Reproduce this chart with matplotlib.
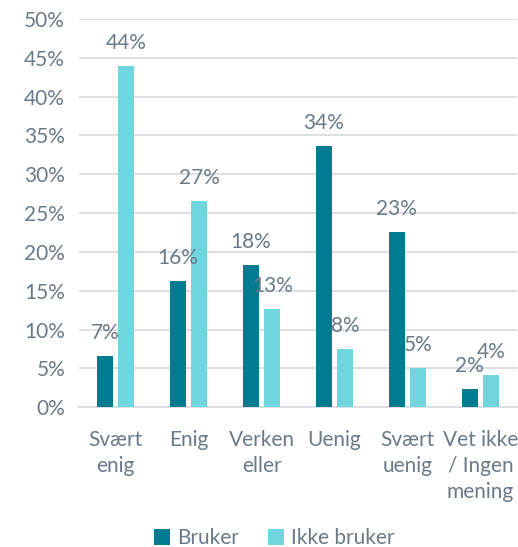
import matplotlib
matplotlib.use("Agg")
import matplotlib.pyplot as plt
from matplotlib.patches import Patch
import numpy as np

# --- Data -------------------------------------------------------------------
categories = ["Svært\nenig", "Enig", "Verken\neller", "Uenig", "Svært\nuenig", "Vet ikke\n/ Ingen\nmening"]
bruker = [6.6, 16.3, 18.3, 33.6, 22.6, 2.3]
ikke_bruker = [43.9, 26.6, 12.7, 7.5, 5.0, 4.2]
series_names = ["Bruker", "Ikke bruker"]
y_ticks = [0, 5, 10, 15, 20, 25, 30, 35, 40, 45, 50]

# --- Style ------------------------------------------------------------------
DARK = "#007B8F"
LIGHT = "#6FD6E0"
TEXT = "#6A7A89"
GRID = "#DCE0E4"
FONT = 15

plt.rcParams["font.family"] = ["Lato", "DejaVu Sans"]

fig = plt.figure(figsize=(5.18, 5.47), dpi=100)
ax = fig.add_axes([79 / 518, 1 - 407.3 / 547, 438 / 518, (407.3 - 19) / 547])

x = np.arange(len(categories))
w = 0.226
off = 0.147
b1 = ax.bar(x - off, bruker, w, color=DARK, zorder=3)
b2 = ax.bar(x + off, ikke_bruker, w, color=LIGHT, zorder=3)

for bars, vals in ((b1, bruker), (b2, ikke_bruker)):
    for rect, v in zip(bars, vals):
        ax.annotate(f"{int(v + 0.5)}%", (rect.get_x() + rect.get_width() / 2, v),
                    xytext=(0, 23), textcoords="offset pixels",
                    ha="center", va="center", color=TEXT, fontsize=FONT, zorder=4)

ax.set_xlim(-0.5, len(categories) - 0.5)
ax.set_ylim(0, 50)
ax.set_yticks(y_ticks)
ax.set_yticklabels([f"{t}%" for t in y_ticks])
ax.set_xticks(x)
ax.set_xticklabels(categories, linespacing=1.38)
ax.tick_params(axis="both", length=0, colors=TEXT, labelsize=FONT)
ax.tick_params(axis="y", pad=10)
ax.tick_params(axis="x", pad=16)
for lab in ax.get_xticklabels():
    lab.set_verticalalignment("top")

ax.grid(axis="y", color=GRID, linewidth=1.5, zorder=0)
for s in ("top", "right", "left"):
    ax.spines[s].set_visible(False)
ax.spines["bottom"].set_color(GRID)
ax.spines["bottom"].set_linewidth(1.5)

handles = [Patch(facecolor=DARK, label=series_names[0]),
           Patch(facecolor=LIGHT, label=series_names[1])]
fig.legend(handles=handles, loc="center", bbox_to_anchor=(274 / 518, 1 - 538 / 547),
           ncol=2, frameon=False, fontsize=FONT, labelcolor=TEXT,
           handlelength=0.8, handleheight=0.8, handletextpad=0.3, columnspacing=1.4)

fig.savefig("out.png", dpi=100)
